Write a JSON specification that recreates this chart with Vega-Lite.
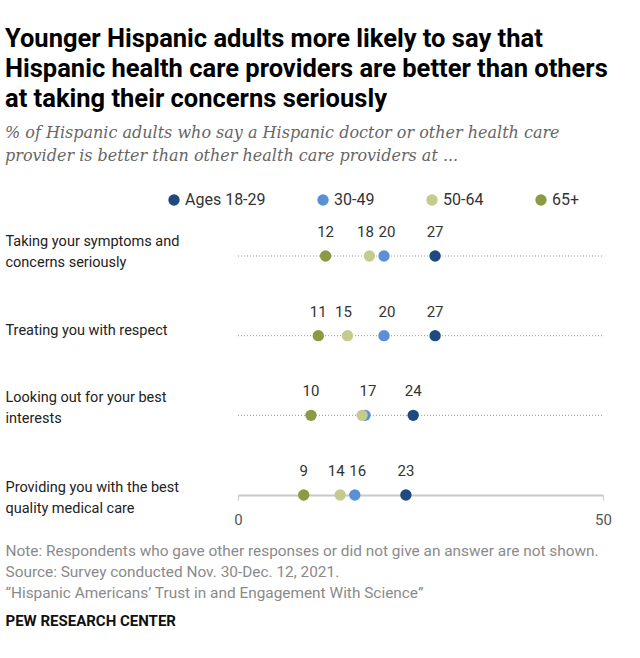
{
  "$schema": "https://vega.github.io/schema/vega-lite/v6.json",
  "width": 365,
  "height": 239,
  "autosize": {"type": "none"},
  "padding": {"left": 238, "top": 256, "right": 37, "bottom": 163},
  "background": "white",
  "title": {
    "text": ["Younger Hispanic adults more likely to say that", "Hispanic health care providers are better than others", "at taking their concerns seriously"],
    "subtitle": ["% of Hispanic adults who say a Hispanic doctor or other health care", "provider is better than other health care providers at ..."],
    "anchor": "start",
    "frame": "group",
    "dx": -233,
    "font": "Roboto",
    "fontSize": 25.5,
    "fontWeight": "bold",
    "color": "#000000",
    "lineHeight": 30,
    "subtitleFont": "DejaVu Serif",
    "subtitleFontStyle": "italic",
    "subtitleFontSize": 16,
    "subtitleColor": "#666666",
    "subtitleLineHeight": 23,
    "subtitlePadding": 13,
    "offset": 28
  },
  "datasets": {
    "dots": [
      {"item": "Taking your symptoms and|concerns seriously", "age": "Ages 18-29", "value": 27, "label": "27"},
      {"item": "Taking your symptoms and|concerns seriously", "age": "30-49", "value": 20, "label": "20"},
      {"item": "Taking your symptoms and|concerns seriously", "age": "50-64", "value": 18, "label": "18"},
      {"item": "Taking your symptoms and|concerns seriously", "age": "65+", "value": 12, "label": "12"},
      {"item": "Treating you with respect", "age": "Ages 18-29", "value": 27, "label": "27"},
      {"item": "Treating you with respect", "age": "30-49", "value": 20, "label": "20"},
      {"item": "Treating you with respect", "age": "50-64", "value": 15, "label": "15"},
      {"item": "Treating you with respect", "age": "65+", "value": 11, "label": "11"},
      {"item": "Looking out for your best|interests", "age": "Ages 18-29", "value": 24, "label": "24"},
      {"item": "Looking out for your best|interests", "age": "30-49", "value": 17.4, "label": "17"},
      {"item": "Looking out for your best|interests", "age": "50-64", "value": 17, "label": ""},
      {"item": "Looking out for your best|interests", "age": "65+", "value": 10, "label": "10"},
      {"item": "Providing you with the best|quality medical care", "age": "Ages 18-29", "value": 23, "label": "23"},
      {"item": "Providing you with the best|quality medical care", "age": "30-49", "value": 16, "label": "16"},
      {"item": "Providing you with the best|quality medical care", "age": "50-64", "value": 14, "label": "14"},
      {"item": "Providing you with the best|quality medical care", "age": "65+", "value": 9, "label": "9"}
    ],
    "lines": [
      {"item": "Taking your symptoms and|concerns seriously", "start": 0, "end": 50},
      {"item": "Treating you with respect", "start": 0, "end": 50},
      {"item": "Looking out for your best|interests", "start": 0, "end": 50}
    ]
  },
  "layer": [
    {
      "data": {"name": "lines"},
      "mark": {"type": "rule", "color": "#9a9a9a", "strokeDash": [1, 2], "strokeWidth": 1},
      "encoding": {
        "y": {"field": "item", "type": "nominal"},
        "x": {"field": "start", "type": "quantitative"},
        "x2": {"field": "end"}
      }
    },
    {
      "data": {"name": "dots"},
      "mark": {"type": "circle", "size": 130, "opacity": 1},
      "encoding": {
        "y": {"field": "item", "type": "nominal"},
        "x": {"field": "value", "type": "quantitative"},
        "color": {
          "field": "age",
          "type": "nominal",
          "sort": ["Ages 18-29", "30-49", "50-64", "65+"],
          "scale": {"domain": ["Ages 18-29", "30-49", "50-64", "65+"], "range": ["#1f4a80", "#5a90d8", "#c4cb8d", "#8c9a43"]},
          "legend": {
            "title": null,
            "orient": "none",
            "direction": "horizontal",
            "legendX": -72,
            "legendY": -64,
            "symbolType": "circle",
            "symbolSize": 130,
            "labelFontSize": 16,
            "labelFont": "Roboto",
            "labelColor": "#333333",
            "columnPadding": 49,
            "labelOffset": 3
          }
        }
      }
    },
    {
      "data": {"name": "dots"},
      "transform": [{"filter": "datum.age == 'Ages 18-29' || datum.age == '65+'"}],
      "mark": {"type": "text", "dy": -24, "fontSize": 15, "font": "Roboto", "color": "#333333"},
      "encoding": {
        "y": {"field": "item", "type": "nominal"},
        "x": {"field": "value", "type": "quantitative"},
        "text": {"field": "label"}
      }
    },
    {
      "data": {"name": "dots"},
      "transform": [{"filter": "datum.age == '30-49'"}],
      "mark": {"type": "text", "dy": -24, "dx": 3, "fontSize": 15, "font": "Roboto", "color": "#333333"},
      "encoding": {
        "y": {"field": "item", "type": "nominal"},
        "x": {"field": "value", "type": "quantitative"},
        "text": {"field": "label"}
      }
    },
    {
      "data": {"name": "dots"},
      "transform": [{"filter": "datum.age == '50-64'"}],
      "mark": {"type": "text", "dy": -24, "dx": -4, "fontSize": 15, "font": "Roboto", "color": "#333333"},
      "encoding": {
        "y": {"field": "item", "type": "nominal"},
        "x": {"field": "value", "type": "quantitative"},
        "text": {"field": "label"}
      }
    }
  ],
  "encoding": {
    "x": {
      "scale": {"domain": [0, 50], "nice": false},
      "axis": {
        "title": ["Note: Respondents who gave other responses or did not give an answer are not shown.", "Source: Survey conducted Nov. 30-Dec. 12, 2021.", "“Hispanic Americans’ Trust in and Engagement With Science”"],
        "titleX": -233,
        "titleY": 48,
        "titleAlign": "left",
        "titleAnchor": "start",
        "titleBaseline": "top",
        "titleFont": "Roboto",
        "titleFontSize": 15.4,
        "titleFontWeight": "normal",
        "titleColor": "#8a8a8a",
        "titleLineHeight": 21,
        "values": [0, 50],
        "grid": false,
        "domainColor": "#c8c8c8",
        "domainWidth": 2,
        "tickColor": "#c8c8c8",
        "tickSize": 5,
        "labelFlush": false,
        "labelFont": "Roboto",
        "labelFontSize": 15,
        "labelColor": "#555555",
        "labelPadding": 12
      }
    },
    "y": {
      "sort": ["Taking your symptoms and|concerns seriously", "Treating you with respect", "Looking out for your best|interests", "Providing you with the best|quality medical care"],
      "scale": {"type": "point", "padding": 0},
      "axis": {
        "title": "PEW RESEARCH CENTER",
        "titleAngle": 0,
        "titleX": -233,
        "titleY": 364,
        "titleAlign": "left",
        "titleBaseline": "middle",
        "titleFont": "Roboto",
        "titleFontSize": 15,
        "titleFontWeight": "bold",
        "titleColor": "#111111",
        "labelExpr": "split(datum.label, '|')",
        "labelAlign": "left",
        "labelBaseline": "middle",
        "labelPadding": 233,
        "labelOffset": {
          "condition": [
            {"test": "datum.value == 'Taking your symptoms and|concerns seriously'", "value": -15},
            {"test": "datum.value == 'Looking out for your best|interests'", "value": -18},
            {"test": "datum.value == 'Providing you with the best|quality medical care'", "value": -8}
          ],
          "value": -5
        },
        "labelFont": "Roboto",
        "labelFontSize": 14.5,
        "labelColor": "#222222",
        "labelLineHeight": 21,
        "labelLimit": 300,
        "ticks": false,
        "domain": false,
        "grid": false
      }
    }
  },
  "config": {"view": {"stroke": null}}
}
